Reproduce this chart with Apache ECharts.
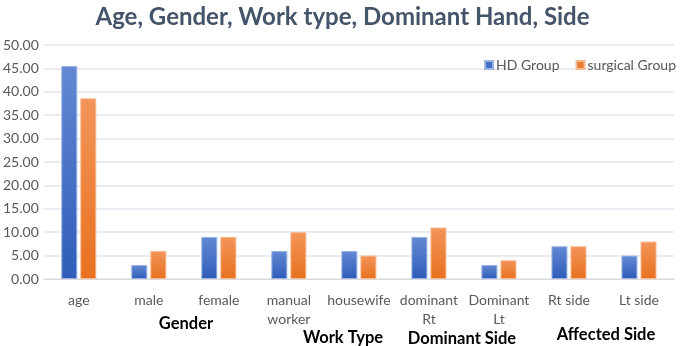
<!DOCTYPE html>
<html>
<head>
<meta charset="utf-8">
<script src="https://cdn.jsdelivr.net/npm/echarts@6/dist/echarts.min.js"></script>
<style>
	html, body { margin: 0; padding: 0; background: #fff; }
	#chart { width: 685px; height: 346px; }
</style>
</head>
<body>
<div id="chart"></div>
<script>
var categories = ['age', 'male', 'female', 'manual\nworker', 'housewife', 'dominant\nRt', 'Dominant\nLt', 'Rt side', 'Lt side'];
var hdGroup = [45.5, 3, 9, 6, 6, 9, 3, 7, 5];
var surgicalGroup = [38.6, 6, 9, 10, 5, 11, 4, 7, 8];
var yTicks = { min: 0, max: 50, interval: 5 };
var groupLabels = ['Gender', 'Work Type', 'Dominant Side', 'Affected Side'];

var font = 'Lato';

function grad(top, bottom) {
	return new echarts.graphic.LinearGradient(0, 0, 0, 1, [
		{ offset: 0, color: top },
		{ offset: 1, color: bottom }
	]);
}

var chart = echarts.init(document.getElementById('chart'));

// group captions under the category labels
var groupPos = [[186, 324], [343, 338], [462, 339], [606, 335]];
var captions = groupLabels.map(function(t, i) {
	return {
		type: 'text',
		x: groupPos[i][0],
		y: groupPos[i][1],
		style: {
			text: t,
			fontFamily: font,
			fontSize: 16.5,
			fontWeight: 'bold',
			fill: '#000',
			align: 'center',
			verticalAlign: 'middle'
		}
	};
});

chart.setOption({
	animation: false,
	textStyle: { fontFamily: font },
	title: {
		text: 'Age, Gender, Work type, Dominant Hand, Side',
		left: 'center',
		top: 0,
		textStyle: {
			fontFamily: font,
			fontSize: 24,
			fontWeight: 'bold',
			color: '#44546a'
		}
	},
	legend: {
		right: 4,
		top: 53,
		itemWidth: 8,
		itemHeight: 8,
		itemGap: 16,
		icon: 'rect',
		textStyle: { fontFamily: font, fontSize: 14, color: '#595959', padding: [0, 0, 0, -2] },
		data: [
			{ name: 'HD Group', itemStyle: { color: '#4472c4' } },
			{ name: 'surgical Group', itemStyle: { color: '#ed7d31' } }
		]
	},
	grid: {
		left: 38,
		right: 11,
		top: 45,
		bottom: 67
	},
	xAxis: {
		type: 'category',
		data: categories,
		axisTick: { show: false },
		axisLine: { lineStyle: { color: '#d9d9d9' } },
		axisLabel: {
			fontFamily: font,
			fontSize: 14,
			color: '#595959',
			margin: 12,
			lineHeight: 19,
			interval: 0
		}
	},
	yAxis: {
		type: 'value',
		min: yTicks.min,
		max: yTicks.max,
		interval: yTicks.interval,
		axisLine: { show: false },
		axisTick: { show: false },
		splitLine: { lineStyle: { color: '#e3e6ec', width: 1.5 } },
		axisLabel: {
			fontFamily: font,
			fontSize: 14,
			color: '#595959',
			margin: 5,
			formatter: function(v) { return v.toFixed(2); }
		}
	},
	series: [{
		name: 'HD Group',
		type: 'bar',
		data: hdGroup,
		barWidth: 16,
		barGap: '19%',
		itemStyle: {
			color: grad('#6389d3', '#2e5cb8'),
			borderColor: '#9ab3e3',
			borderWidth: 1
		}
	}, {
		name: 'surgical Group',
		type: 'bar',
		data: surgicalGroup,
		barWidth: 16,
		itemStyle: {
			color: grad('#f3955a', '#e7711f'),
			borderColor: '#f7b88e',
			borderWidth: 1
		}
	}],
	graphic: captions
});
</script>
</body>
</html>
